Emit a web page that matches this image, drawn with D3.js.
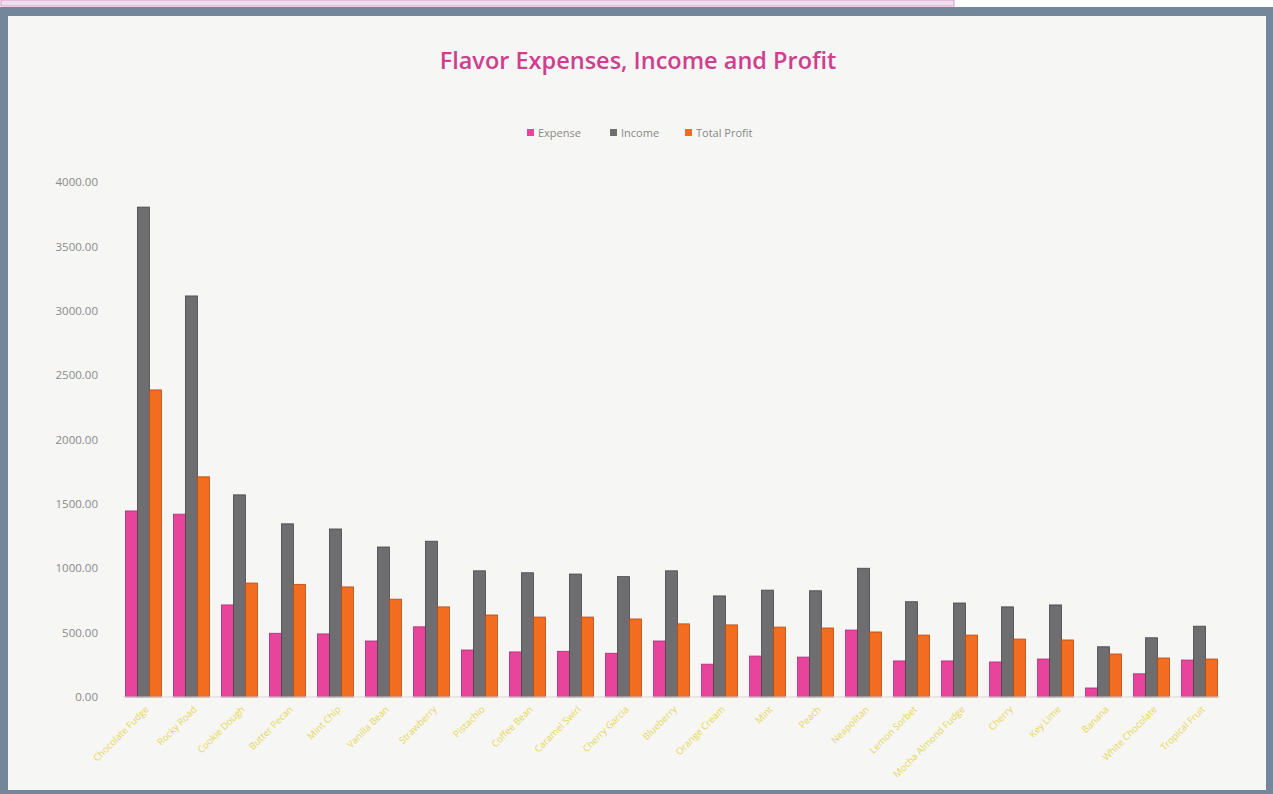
<!DOCTYPE html>
<html>
<head>
    <title>Flavor Expenses, Income and Profit</title>
    <script src="https://d3js.org/d3.v7.min.js"></script>
    <style>
        body { margin: 0; background: #74879a; }
    </style>
</head>
<body>
    <script>
        // data
        var flavors = ["Chocolate Fudge", "Rocky Road", "Cookie Dough", "Butter Pecan", "Mint Chip",
                       "Vanilla Bean", "Strawberry", "Pistachio", "Coffee Bean", "Caramel Swirl",
                       "Cherry Garcia", "Blueberry", "Orange Cream", "Mint", "Peach",
                       "Neapolitan", "Lemon Sorbet", "Mocha Almond Fudge", "Cherry", "Key Lime",
                       "Banana", "White Chocolate", "Tropical Fruit"];
        var expense = [1445, 1420, 715, 495, 490, 435, 545, 365, 350, 355, 340, 435, 255,
                       318, 310, 520, 280, 280, 272, 295, 70, 180, 287];
        var income = [3805, 3115, 1570, 1345, 1305, 1165, 1210, 980, 965, 955, 935, 980, 785,
                      830, 825, 1000, 740, 730, 700, 715, 390, 460, 550];
        var profit = [2385, 1710, 885, 875, 855, 760, 700, 637, 621, 621, 606, 568, 560,
                      543, 536, 505, 481, 481, 450, 443, 334, 303, 295];
        var seriesNames = ["Expense", "Income", "Total Profit"];
        var yTicks = [0, 500, 1000, 1500, 2000, 2500, 3000, 3500, 4000];

        var width = 1273, height = 794;
        var colors = ["#e8449c", "#6e6e70", "#f26d1f"];
        var strokes = ["#b02a72", "#454548", "#b84a10"];

        var svg = d3.select("body")
                    .append("svg")
                    .attr("width", width)
                    .attr("height", height);

        // top strip and chart panel
        svg.append("rect").attr("x", 0).attr("y", 0).attr("width", width).attr("height", 7).attr("fill", "#ffffff");
        svg.append("rect").attr("x", 1).attr("y", 0).attr("width", 953).attr("height", 6)
           .attr("fill", "#efe0ee").attr("stroke", "#d79ac8");
        svg.append("rect").attr("x", 8).attr("y", 16).attr("width", 1258).attr("height", 774)
           .attr("fill", "#f6f6f5");

        var margin = {left: 123, right: 1220, top: 182, bottom: 697};

        var x = d3.scaleBand()
                  .domain(flavors)
                  .range([margin.left, margin.right])
                  .paddingInner(0.25)
                  .paddingOuter(0.05);

        var xSub = d3.scaleBand()
                     .domain(seriesNames)
                     .range([0, x.bandwidth()]);

        var y = d3.scaleLinear()
                  .domain([0, 4000])
                  .range([margin.bottom, margin.top]);

        // title
        svg.append("text")
           .attr("x", 638).attr("y", 69)
           .attr("text-anchor", "middle")
           .attr("font-family", "Open Sans, sans-serif")
           .attr("font-size", 23.5)
           .attr("font-weight", 600)
           .attr("fill", "#cf3f8e")
           .text("Flavor Expenses, Income and Profit");

        // legend
        var legendX = [527, 610, 685];
        var legend = svg.append("g")
                        .selectAll("g")
                        .data(seriesNames)
                        .join("g")
                        .attr("transform", (d, i) => `translate(${legendX[i]},133)`);
        legend.append("rect")
              .attr("x", 0).attr("y", -4)
              .attr("width", 7).attr("height", 7)
              .attr("fill", (d, i) => colors[i]);
        legend.append("text")
              .attr("x", 11).attr("y", 0)
              .attr("dy", "0.35em")
              .attr("font-family", "Open Sans, sans-serif")
              .attr("font-size", 11)
              .attr("fill", "#888")
              .text(d => d);

        // y axis
        var yAxis = svg.append("g")
                       .attr("transform", "translate(101,0)")
                       .call(d3.axisLeft(y).tickValues(yTicks).tickSize(0).tickFormat(d3.format(".2f")));
        yAxis.select(".domain").remove();
        yAxis.selectAll("text")
             .attr("font-family", "Open Sans, sans-serif")
             .attr("font-size", 11.5)
             .attr("fill", "#8a8a8a");

        // bars
        var series = [expense, income, profit];
        var groups = svg.append("g")
                        .selectAll("g")
                        .data(flavors)
                        .join("g")
                        .attr("transform", d => `translate(${x(d)},0)`);

        groups.selectAll("rect")
              .data((d, i) => series.map((s, k) => ({k: k, name: seriesNames[k], value: s[i]})))
              .join("rect")
              .attr("x", d => xSub(d.name))
              .attr("y", d => y(d.value))
              .attr("width", xSub.bandwidth())
              .attr("height", d => y(0) - y(d.value))
              .attr("fill", d => colors[d.k])
              .attr("stroke", d => strokes[d.k])
              .attr("stroke-width", 0.8);

        // baseline
        svg.append("line")
           .attr("x1", margin.left).attr("x2", margin.right)
           .attr("y1", y(0)).attr("y2", y(0))
           .attr("stroke", "#d8d8d8");

        // x labels
        svg.append("g")
           .selectAll("text")
           .data(flavors)
           .join("text")
           .attr("transform", d => `translate(${x(d) + x.bandwidth() / 2 + 6},710) rotate(-45)`)
           .attr("text-anchor", "end")
           .attr("font-family", "Open Sans, sans-serif")
           .attr("font-size", 9.5)
           .attr("fill", "#e6d655")
           .text(d => d);
    </script>
</body>
</html>
